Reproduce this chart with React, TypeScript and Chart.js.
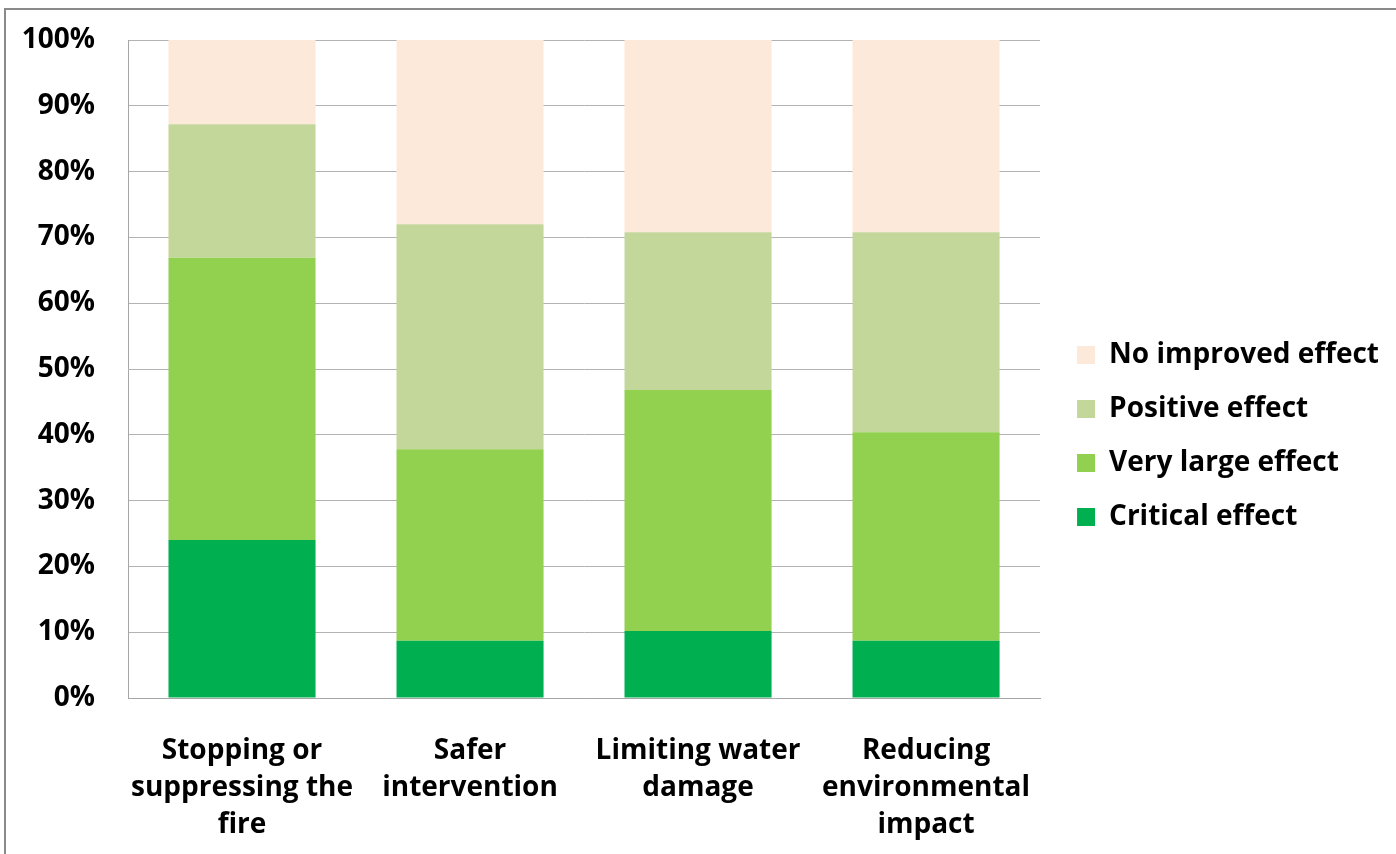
import React, { useEffect, useRef } from "react";
import { Chart, registerables } from "chart.js";
Chart.register(...registerables);

const categories: string[][] = [
  ["Stopping or", "suppressing the", "fire"],
  ["Safer", "intervention"],
  ["Limiting water", "damage"],
  ["Reducing", "environmental", "impact"],
];
const seriesNames = ["Critical effect", "Very large effect", "Positive effect", "No improved effect"];
const critical = [24.0, 8.7, 10.2, 8.7];
const veryLarge = [42.9, 29.1, 36.6, 31.7];
const positive = [20.3, 34.2, 24.0, 30.4];
const noImproved = [12.8, 28.0, 29.2, 29.2];
const colors = ["#00B050", "#92D050", "#C4D79B", "#FDE9D9"];
const yTicks = [0, 10, 20, 30, 40, 50, 60, 70, 80, 90, 100];

const FONT = "'Open Sans', Lato, sans-serif";
const FS = 28;

const legendShift = {
  id: "legendShift",
  afterLayout(chart: any) {
    const lg = chart.legend;
    if (!lg) return;
    const dy = -3;
    const w = lg.right - lg.left;
    const newLeft = chart.chartArea.right + 11;
    lg.left = newLeft;
    lg.right = newLeft + w;
    lg.top += dy;
    lg.bottom += dy;
  },
};

export default function App() {
  const ref = useRef<HTMLCanvasElement | null>(null);
  useEffect(() => {
    if (!ref.current) return;
    const data = [critical, veryLarge, positive, noImproved];
    const chart = new Chart(ref.current, {
      type: "bar",
      data: {
        labels: categories,
        datasets: seriesNames.map((name, i) => ({
          label: name,
          data: data[i],
          backgroundColor: colors[i],
          borderWidth: 0,
          categoryPercentage: 1,
          barPercentage: 0.645,
        })),
      },
      plugins: [legendShift],
      options: {
        responsive: false,
        animation: false,
        maintainAspectRatio: false,
        layout: { padding: { left: 20, top: 24, right: 18, bottom: 0 } },
        plugins: {
          tooltip: { enabled: false },
          legend: {
            position: "right",
            reverse: true,
            labels: {
              boxWidth: 18,
              boxHeight: 18,
              padding: 26,
              color: "#000",
              font: { family: FONT, size: FS, weight: "bold" },
            },
          },
        },
        scales: {
          x: {
            stacked: true,
            grid: { display: false, drawTicks: false },
            border: { display: true, color: "#a6a6a6", width: 1 },
            afterFit: (axis: any) => {
              axis.height = 156;
            },
            ticks: {
              color: "#000",
              padding: 35,
              maxRotation: 0,
              autoSkip: false,
              font: { family: FONT, size: FS, weight: "bold", lineHeight: "37px" },
            },
          },
          y: {
            stacked: true,
            min: 0,
            max: 100,
            afterBuildTicks: (axis: any) => {
              axis.ticks = yTicks.map((v) => ({ value: v }));
            },
            afterFit: (axis: any) => {
              axis.width = 108;
            },
            grid: { color: "#b3b3b3", lineWidth: 1, drawTicks: false },
            border: { display: true, color: "#a6a6a6", width: 1 },
            ticks: {
              color: "#000",
              padding: 33,
              callback: (v: any) => `${v}%`,
              font: { family: FONT, size: FS, weight: "bold", lineHeight: "14px" },
            },
          },
        },
      },
    });
    return () => chart.destroy();
  }, []);
  return (
    <div style={{ position: "absolute", left: 0, top: 0, width: 1396, height: 854, overflow: "hidden", background: "#fff" }}>
      <div
        style={{
          position: "absolute",
          left: 4,
          top: 8,
          width: 1500,
          height: 1000,
          borderTop: "2px solid #8a8a8a",
          borderLeft: "2px solid #8a8a8a",
        }}
      />
      <canvas ref={ref} width={1396} height={854} style={{ position: "absolute", left: 0, top: 0, width: 1396, height: 854 }} />
    </div>
  );
}
